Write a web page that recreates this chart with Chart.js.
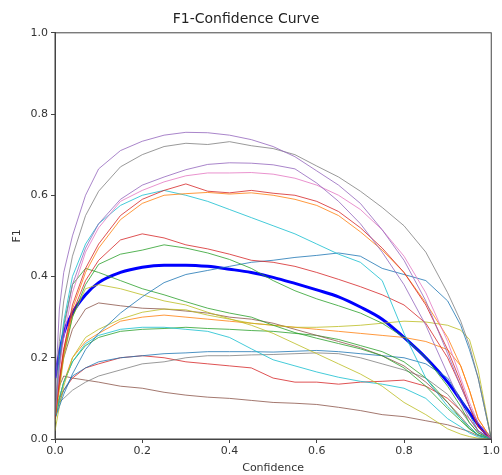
<!DOCTYPE html>
<html>
<head>
<meta charset="utf-8">
<script src="https://cdn.jsdelivr.net/npm/chart.js@4"></script>
<style>
  html, body { margin: 0; padding: 0; background: #fff; }
  #wrap { width: 502px; height: 475px; }
</style>
</head>
<body>
<div id="wrap"><canvas id="f1Chart" width="502" height="475"></canvas></div>
<script>
// confidence thresholds (x) shared by every curve
const conf = [0, 0.01, 0.02, 0.04, 0.07, 0.1, 0.15, 0.2, 0.25, 0.3, 0.35, 0.4, 0.45, 0.5, 0.55, 0.6, 0.65, 0.7, 0.75, 0.8, 0.85, 0.9, 0.93, 0.95, 0.97, 1.0];

// per-class F1 values
const purpleTop = [0.10, 0.32, 0.41, 0.50, 0.60, 0.665, 0.71, 0.733, 0.748, 0.755, 0.754, 0.748, 0.737, 0.72, 0.695, 0.66, 0.625, 0.58, 0.515, 0.44, 0.34, 0.21, 0.13, 0.08, 0.04, 0];
const grayTop = [0.06, 0.24, 0.34, 0.45, 0.55, 0.61, 0.67, 0.70, 0.72, 0.728, 0.725, 0.732, 0.722, 0.715, 0.70, 0.672, 0.645, 0.61, 0.57, 0.525, 0.46, 0.36, 0.29, 0.23, 0.15, 0];
const purpleMid = [0.06, 0.18, 0.27, 0.38, 0.47, 0.53, 0.59, 0.625, 0.645, 0.663, 0.676, 0.68, 0.679, 0.675, 0.665, 0.63, 0.585, 0.53, 0.46, 0.38, 0.28, 0.16, 0.09, 0.05, 0.02, 0];
const pink = [0.06, 0.17, 0.25, 0.36, 0.46, 0.52, 0.585, 0.612, 0.633, 0.648, 0.655, 0.655, 0.656, 0.652, 0.642, 0.625, 0.60, 0.565, 0.515, 0.45, 0.36, 0.24, 0.15, 0.09, 0.04, 0];
const salmon = [0.05, 0.14, 0.22, 0.33, 0.42, 0.48, 0.55, 0.59, 0.612, 0.628, 0.61, 0.606, 0.612, 0.605, 0.60, 0.585, 0.56, 0.52, 0.47, 0.41, 0.33, 0.22, 0.14, 0.08, 0.03, 0];
const orange = [0.05, 0.13, 0.21, 0.32, 0.41, 0.47, 0.54, 0.58, 0.60, 0.604, 0.607, 0.603, 0.606, 0.60, 0.59, 0.575, 0.55, 0.51, 0.465, 0.41, 0.335, 0.25, 0.18, 0.12, 0.05, 0];
const cyan = [0.06, 0.20, 0.29, 0.40, 0.48, 0.53, 0.575, 0.60, 0.612, 0.60, 0.585, 0.565, 0.545, 0.525, 0.505, 0.48, 0.455, 0.435, 0.39, 0.26, 0.15, 0.08, 0.05, 0.03, 0.01, 0];
const darkRed = [0.05, 0.15, 0.22, 0.31, 0.39, 0.44, 0.49, 0.505, 0.495, 0.478, 0.468, 0.455, 0.44, 0.435, 0.425, 0.41, 0.393, 0.375, 0.355, 0.33, 0.285, 0.20, 0.13, 0.08, 0.03, 0];
const green = [0.05, 0.14, 0.21, 0.30, 0.38, 0.43, 0.455, 0.465, 0.478, 0.47, 0.458, 0.442, 0.42, 0.39, 0.365, 0.345, 0.328, 0.31, 0.285, 0.25, 0.20, 0.13, 0.08, 0.04, 0.015, 0];
const blueRising = [0.05, 0.08, 0.11, 0.16, 0.22, 0.26, 0.31, 0.35, 0.385, 0.405, 0.415, 0.425, 0.435, 0.44, 0.447, 0.452, 0.458, 0.45, 0.42, 0.405, 0.39, 0.34, 0.28, 0.22, 0.15, 0];
const greenEarly = [0.05, 0.18, 0.28, 0.38, 0.42, 0.41, 0.39, 0.37, 0.355, 0.338, 0.322, 0.31, 0.30, 0.28, 0.262, 0.248, 0.235, 0.222, 0.205, 0.175, 0.13, 0.075, 0.045, 0.025, 0.01, 0];
const oliveFalling = [0.04, 0.12, 0.20, 0.30, 0.37, 0.38, 0.37, 0.355, 0.34, 0.33, 0.312, 0.296, 0.28, 0.26, 0.235, 0.21, 0.185, 0.16, 0.13, 0.09, 0.06, 0.025, 0.012, 0.006, 0.002, 0];
const oliveFlat = [0.02, 0.08, 0.13, 0.20, 0.25, 0.27, 0.295, 0.312, 0.32, 0.318, 0.305, 0.295, 0.285, 0.28, 0.275, 0.275, 0.277, 0.28, 0.285, 0.29, 0.288, 0.28, 0.268, 0.245, 0.17, 0];
const brown = [0.05, 0.14, 0.20, 0.27, 0.32, 0.335, 0.328, 0.322, 0.32, 0.315, 0.31, 0.30, 0.295, 0.285, 0.27, 0.255, 0.24, 0.225, 0.205, 0.18, 0.14, 0.09, 0.055, 0.03, 0.01, 0];
const cyanLow = [0.05, 0.10, 0.14, 0.19, 0.235, 0.255, 0.27, 0.275, 0.275, 0.27, 0.265, 0.25, 0.222, 0.195, 0.18, 0.165, 0.152, 0.142, 0.135, 0.125, 0.10, 0.05, 0.03, 0.015, 0.005, 0];
const greenLow = [0.05, 0.10, 0.14, 0.19, 0.23, 0.25, 0.265, 0.27, 0.272, 0.275, 0.272, 0.27, 0.267, 0.265, 0.26, 0.255, 0.245, 0.23, 0.215, 0.19, 0.15, 0.09, 0.05, 0.025, 0.01, 0];
const blueFlat = [0.05, 0.09, 0.12, 0.155, 0.175, 0.19, 0.20, 0.205, 0.21, 0.212, 0.215, 0.215, 0.215, 0.214, 0.216, 0.218, 0.215, 0.21, 0.205, 0.20, 0.185, 0.15, 0.10, 0.06, 0.02, 0];
const grayLow = [0.08, 0.09, 0.10, 0.12, 0.14, 0.155, 0.17, 0.185, 0.19, 0.20, 0.205, 0.205, 0.207, 0.208, 0.21, 0.212, 0.21, 0.20, 0.185, 0.17, 0.15, 0.11, 0.07, 0.04, 0.015, 0];
const redLow = [0.08, 0.10, 0.12, 0.15, 0.175, 0.185, 0.20, 0.205, 0.20, 0.19, 0.185, 0.18, 0.175, 0.15, 0.14, 0.14, 0.135, 0.14, 0.142, 0.145, 0.13, 0.10, 0.07, 0.05, 0.02, 0];
const brownLow = [0.08, 0.13, 0.155, 0.15, 0.145, 0.14, 0.13, 0.125, 0.115, 0.108, 0.103, 0.10, 0.095, 0.09, 0.088, 0.085, 0.078, 0.07, 0.06, 0.055, 0.045, 0.035, 0.025, 0.018, 0.008, 0];
const orangeFlat = [0.05, 0.10, 0.14, 0.20, 0.24, 0.26, 0.29, 0.30, 0.305, 0.30, 0.295, 0.29, 0.285, 0.28, 0.275, 0.27, 0.265, 0.26, 0.255, 0.25, 0.24, 0.22, 0.18, 0.12, 0.05, 0];
// "all classes" mean curve
const allClasses = [0.15, 0.21, 0.26, 0.31, 0.355, 0.385, 0.41, 0.423, 0.428, 0.428, 0.425, 0.418, 0.41, 0.398, 0.383, 0.367, 0.35, 0.325, 0.295, 0.25, 0.20, 0.14, 0.095, 0.065, 0.035, 0];

const yTicks = [0, 0.2, 0.4, 0.6, 0.8, 1.0];

const classCurves = [
  [purpleTop, "#9467bd"], [grayTop, "#7f7f7f"], [purpleMid, "#9467bd"], [pink, "#e377c2"],
  [salmon, "#d62728"], [orange, "#ff7f0e"], [cyan, "#17becf"], [darkRed, "#d62728"],
  [green, "#2ca02c"], [blueRising, "#1f77b4"], [greenEarly, "#2ca02c"], [oliveFalling, "#bcbd22"],
  [oliveFlat, "#bcbd22"], [brown, "#8c564b"], [cyanLow, "#17becf"], [greenLow, "#2ca02c"],
  [blueFlat, "#1f77b4"], [grayLow, "#7f7f7f"], [redLow, "#d62728"], [brownLow, "#8c564b"],
  [orangeFlat, "#ff7f0e"]
];

const toPoints = vals => vals.map((v, i) => ({ x: conf[i], y: v }));

const datasets = classCurves.map(([vals, color]) => ({
  data: toPoints(vals),
  borderColor: color + "cc",
  borderWidth: 1,
  pointRadius: 0,
  tension: 0
}));
datasets.push({
  data: toPoints(allClasses),
  borderColor: "#0000ff",
  borderWidth: 3,
  pointRadius: 0,
  cubicInterpolationMode: "monotone"
});

// top and right spines like matplotlib
const frame = {
  id: "frame",
  afterDraw(chart) {
    const { ctx, chartArea: a } = chart;
    ctx.save();
    ctx.strokeStyle = "#444";
    ctx.lineWidth = 1;
    ctx.strokeRect(a.left, a.top, a.right - a.left, a.bottom - a.top);
    ctx.restore();
  }
};

const tickFont = { family: "DejaVu Sans", size: 11 };

new Chart(document.getElementById("f1Chart"), {
  type: "line",
  data: { datasets },
  options: {
    responsive: false,
    animation: false,
    layout: { padding: { left: 0, right: 10, top: 0, bottom: 0 } },
    plugins: {
      legend: { display: false },
      tooltip: { enabled: false },
      title: {
        display: true,
        text: "F1-Confidence Curve",
        color: "#222",
        font: { family: "DejaVu Sans", size: 14, weight: "normal" },
        padding: { top: 11, bottom: 5 }
      }
    },
    scales: {
      x: {
        type: "linear",
        min: 0, max: 1,
        afterFit: s => { s.height = 36; },
        ticks: { stepSize: 0.2, color: "#333", font: tickFont, padding: 2, maxRotation: 0,
                 callback: v => v.toFixed(1) },
        grid: { drawOnChartArea: false, drawTicks: true, tickLength: 4, color: "#444" },
        border: { display: true, color: "#444" },
        title: { display: true, text: "Confidence", color: "#333", font: tickFont, padding: { top: 1, bottom: 0 } }
      },
      y: {
        type: "linear",
        min: 0, max: 1,
        afterFit: s => { s.width = 55; },
        afterBuildTicks: s => { s.ticks = yTicks.map(v => ({ value: v })); },
        ticks: { color: "#333", font: tickFont, padding: 3, callback: v => v.toFixed(1) },
        grid: { drawOnChartArea: false, drawTicks: true, tickLength: 4, color: "#444" },
        border: { display: true, color: "#444" },
        title: { display: true, text: "F1", color: "#333", font: tickFont, padding: { top: 11, bottom: 0 } }
      }
    }
  },
  plugins: [frame]
});
</script>
</body>
</html>
